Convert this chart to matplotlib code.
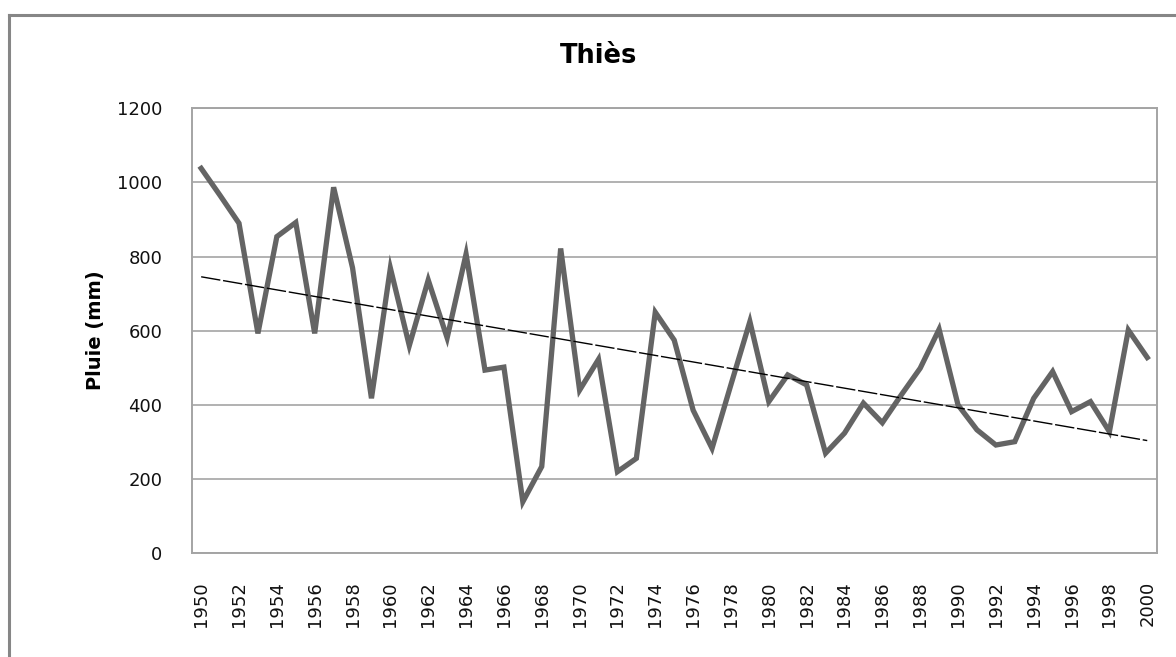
import matplotlib
matplotlib.use("Agg")
import matplotlib.pyplot as plt
import numpy as np

# ── Data (annual rainfall, Thiès) ─────────────────────────────────────────────
years = list(range(1950, 2001))
rain = [
    1038, 965, 890, 593, 854, 892, 593, 987, 770, 418,
    769, 560, 737, 581, 807, 494, 502, 139, 234, 822,
    440, 523, 220, 256, 650, 575, 386, 283, 455, 625,
    409, 481, 454, 270, 324, 405, 352, 427, 499, 604,
    400, 333, 292, 301, 418, 490, 382, 409, 328, 602,
    528,
]
tick_years = years[::2]

W, H = 1176, 657
fig = plt.figure(figsize=(W / 100, H / 100), dpi=100)
fig.patch.set_facecolor("white")

# outer chart frame (left + top visible)
fig.add_artist(plt.Line2D([8.5 / W, 8.5 / W], [0, 1 - 14.5 / H], transform=fig.transFigure,
                          color="#868686", linewidth=2.2))
fig.add_artist(plt.Line2D([8.5 / W, 1], [1 - 14.5 / H, 1 - 14.5 / H], transform=fig.transFigure,
                          color="#868686", linewidth=2.2))

ax = fig.add_axes([191.7 / W, 1 - 553.3 / H, 965 / W, (553.3 - 108.3) / H])

x = np.array(years)
y = np.array(rain)
ax.plot(x, y, color="#646464", linewidth=3.8, solid_joinstyle="miter", zorder=3)

# linear trend
coef = np.polyfit(x, y, 1)
ax.plot(x, np.polyval(coef, x), color="black", linewidth=1.0,
        linestyle=(0, (14, 2)), zorder=4)

ax.set_xlim(1949.5, 2000.5)
ax.set_ylim(0, 1200)
ax.set_yticks(range(0, 1201, 200))
ax.set_xticks(tick_years)
ax.set_xticklabels([str(t) for t in tick_years], rotation=90)
ax.tick_params(axis="both", length=0, labelsize=13, labelcolor="#111111")
ax.tick_params(axis="y", pad=21)
ax.tick_params(axis="x", pad=20)
ax.grid(axis="y", color="#a4a4a4", linewidth=1.2)
ax.set_axisbelow(True)
for spine in ax.spines.values():
    spine.set_edgecolor("#a4a4a4")
    spine.set_linewidth(1.4)

fig.text(599 / W, 1 - 56 / H, "Thiès", ha="center", va="center",
         fontsize=18.5, fontweight="bold")
fig.text(96 / W, 1 - 330 / H, "Pluie (mm)", ha="center", va="center",
         rotation=90, fontsize=14, fontweight="bold")

plt.savefig("out.png", dpi=100, facecolor=fig.get_facecolor())
